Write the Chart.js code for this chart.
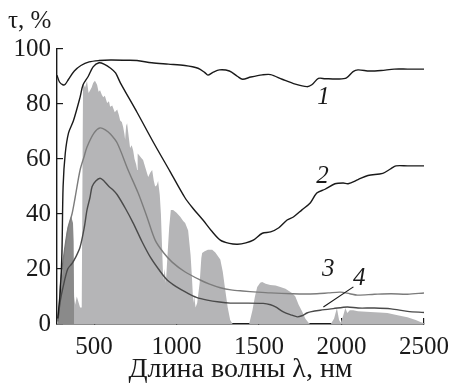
<!DOCTYPE html>
<html>
<head>
<meta charset="utf-8">
<script src="https://cdn.jsdelivr.net/npm/chart.js@4/dist/chart.umd.min.js"></script>
<style>
  body { margin: 0; background: #fff; }
  #wrap { width: 453px; height: 386px; }
</style>
</head>
<body>
<div id="wrap"><canvas id="tauChart" width="453" height="386"></canvas></div>
<script>
// wavelength grid (nm) and transmittance (%) for each sample
const curve1Wl = [275, 290, 310, 325, 345, 380, 420, 470, 530, 600, 700, 760, 850, 950, 1050, 1130, 1170, 1190, 1220, 1260, 1320, 1370, 1400, 1450, 1520, 1570, 1640, 1720, 1790, 1820, 1860, 1900, 1980, 2030, 2070, 2100, 2170, 2240, 2320, 2400, 2500];
const curve1T = [90.5, 88, 87, 87.2, 89, 92, 94, 95.3, 95.8, 96, 95.9, 95.8, 95, 94.5, 94, 93, 91.5, 90.5, 91.5, 92.4, 92, 90, 89, 89.8, 90.6, 90.7, 89, 87.2, 86.3, 87, 89.3, 89.2, 89.1, 89.5, 91.8, 92.4, 92, 92.2, 92.7, 92.7, 92.7];

const curve2Wl = [280, 295, 305, 312, 325, 345, 375, 415, 433, 464, 494, 530, 560, 600, 630, 660, 760, 860, 960, 1050, 1100, 1160, 1210, 1265, 1320, 1370, 1420, 1465, 1520, 1570, 1620, 1670, 1710, 1760, 1810, 1850, 1900, 1960, 2010, 2040, 2100, 2160, 2250, 2300, 2330, 2400, 2500];
const curve2T = [2, 12, 26, 50, 62, 69.5, 74, 82.5, 87, 90, 93.5, 95, 94.5, 93, 91.3, 87.6, 77, 66, 55.5, 46, 42, 37.8, 34, 30.5, 29.3, 29, 29.5, 30.5, 33, 33.5, 35, 37.8, 39, 41.5, 44, 47.6, 49, 51, 51.3, 51, 52.5, 54, 54.8, 56.5, 57.5, 57.5, 57.5];

const curve3Wl = [280, 290, 294, 312, 342, 366, 385, 415, 440, 457, 500, 536, 570, 600, 640, 706, 767, 820, 870, 920, 973, 1050, 1143, 1200, 1265, 1330, 1400, 1490, 1570, 1700, 1768, 1850, 1920, 1993, 2050, 2096, 2200, 2300, 2400, 2500];
const curve3T = [1, 8, 13.5, 23, 35, 40, 46, 56, 61, 64.4, 69.5, 71.3, 70.5, 69, 65.8, 56, 47.6, 39, 30.5, 26, 22.5, 19, 16, 14.5, 13.2, 12.4, 12, 11.6, 11.3, 11, 10.9, 11, 11.3, 11.6, 11, 10.5, 10.8, 11, 10.8, 11.3];

const curve4Wl = [280, 294, 312, 340, 366, 390, 415, 440, 457, 475, 488, 510, 536, 560, 590, 615, 640, 690, 737, 790, 840, 890, 943, 1000, 1064, 1120, 1186, 1260, 1325, 1400, 1525, 1570, 1600, 1647, 1700, 1732, 1760, 1790, 1811, 1871, 1950, 2035, 2100, 2200, 2300, 2400, 2500];
const curve4T = [1, 8, 13.5, 20, 22, 24.5, 28, 35, 41.5, 46, 50, 52, 53, 52, 50, 48.7, 47, 42, 36.7, 30, 24.4, 20, 16, 13.5, 11.3, 9.7, 8.7, 8, 7.6, 7.6, 7.5, 7, 6.2, 4.4, 3.2, 2.6, 3, 4, 4.4, 5, 5.6, 6.2, 5.8, 5.8, 5.5, 4.6, 4.2];

// solar spectrum (relative units, shown as grey fill)
const solarWl = [275, 290, 300, 320, 340, 355, 370, 379, 385, 395, 405, 415, 425, 430, 433, 445, 457, 466, 476, 485, 494, 505, 518, 527, 536, 546, 555, 565, 579, 590, 597, 610, 625, 640, 650, 658, 668, 676, 684, 688, 694, 700, 710, 718, 728, 737, 745, 755, 761, 764, 772, 785, 797, 810, 820, 828, 840, 852, 862, 870, 880, 888, 898, 905, 912, 919, 928, 935, 945, 955, 965, 979, 1000, 1022, 1040, 1052, 1070, 1085, 1094, 1101, 1106, 1115, 1125, 1140, 1150, 1155, 1170, 1190, 1216, 1235, 1265, 1280, 1295, 1310, 1325, 1340, 1440, 1460, 1475, 1489, 1507, 1519, 1540, 1568, 1600, 1629, 1660, 1700, 1720, 1740, 1762, 1780, 1800, 1810, 1935, 1955, 1972, 1985, 1995, 2010, 2023, 2035, 2050, 2071, 2100, 2175, 2230, 2278, 2340, 2399, 2450, 2478, 2500];
const solarI = [0, 3, 8, 15, 25, 30, 28, 10, 7, 10, 8, 6, 6, 60, 87.6, 86, 88.4, 84, 85, 86, 87.6, 88.5, 87, 84.5, 85, 83.5, 82.5, 83, 80.4, 81, 79, 79.5, 77, 78, 76, 74, 73.5, 71.6, 69, 67, 72, 73, 68, 64, 65, 63, 60, 58, 56, 62, 61.5, 60.5, 59.6, 57, 55, 53.5, 55, 56, 52, 50, 50.5, 52, 47, 40, 28, 16, 20, 15, 25, 35, 41.5, 41.5, 40.5, 39, 37.5, 36.7, 34, 25, 16, 7.6, 10.5, 6, 7.6, 15, 24, 25.8, 26.5, 27, 27, 26, 23.5, 19, 12.4, 6, 1.5, 0, 0, 5, 10, 13.5, 15, 15.3, 14.6, 14.2, 14, 13.5, 12.8, 11.3, 10, 7, 4.5, 2, 0.5, 0, 0, 2, 5.8, 1.5, 0.5, 3, 5.8, 4, 5, 5, 4.6, 4.4, 4.2, 4, 3.2, 2.5, 1.5, 0.7, 0.3];

const uvWl = [280, 290, 300, 312, 325, 336, 345, 354, 362, 366, 372, 376, 379];
const uvI = [0, 6, 13, 23, 29, 34, 36, 38, 39.5, 38, 36.7, 30, 0];

const xTicks = [500, 1000, 1500, 2000, 2500];
const curveLabels = ["1", "2", "3", "4"];
const labelWl = [1890, 1884, 1920, 2108];
const labelT = [82.5, 53.5, 20, 16.4];
const leaderWl = [2072, 1890];
const leaderT = [13.5, 6.2];

const serif = "'Liberation Serif', 'DejaVu Serif', serif";

function pts(xs, ys) {
  return xs.map((x, i) => ({ x: x, y: ys[i] }));
}

function lineSet(xs, ys, color) {
  return {
    data: pts(xs, ys),
    borderColor: color,
    borderWidth: 1.4,
    pointRadius: 0,
    fill: false,
    tension: 0.3,
    order: 0
  };
}

function fillSet(xs, ys, color) {
  return {
    data: pts(xs, ys),
    borderWidth: 0,
    borderColor: color,
    backgroundColor: color,
    pointRadius: 0,
    fill: "origin",
    tension: 0,
    order: 1
  };
}

const curveLabelPlugin = {
  id: "curveLabels",
  afterDatasetsDraw(chart) {
    const { ctx, scales: { x, y } } = chart;
    ctx.save();
    ctx.fillStyle = "#1a1a1a";
    ctx.font = "italic 25px " + serif;
    ctx.textAlign = "center";
    ctx.textBaseline = "middle";
    curveLabels.forEach((t, i) => {
      ctx.fillText(t, x.getPixelForValue(labelWl[i]), y.getPixelForValue(labelT[i]));
    });
    ctx.strokeStyle = "#1a1a1a";
    ctx.lineWidth = 1.2;
    ctx.beginPath();
    ctx.moveTo(x.getPixelForValue(leaderWl[0]), y.getPixelForValue(leaderT[0]));
    ctx.lineTo(x.getPixelForValue(leaderWl[1]), y.getPixelForValue(leaderT[1]));
    ctx.stroke();
    ctx.restore();
  }
};

const ctx = document.getElementById("tauChart").getContext("2d");

new Chart(ctx, {
  type: "line",
  data: {
    datasets: [
      lineSet(curve1Wl, curve1T, "#1a1a1a"),
      lineSet(curve2Wl, curve2T, "#1a1a1a"),
      lineSet(curve3Wl, curve3T, "#7c7c7c"),
      lineSet(curve4Wl, curve4T, "#4a4a4a"),
      fillSet(uvWl, uvI, "#8a8a8a"),
      fillSet(solarWl, solarI, "#b5b5b7")
    ]
  },
  options: {
    responsive: false,
    devicePixelRatio: 1,
    animation: false,
    layout: { padding: { left: 8, right: 0, top: 0, bottom: 0 } },
    plugins: {
      legend: { display: false },
      tooltip: { enabled: false },
      title: {
        display: true,
        text: "τ, %",
        align: "start",
        color: "#1a1a1a",
        font: { family: serif, size: 25, weight: "normal" },
        padding: { top: 6, bottom: 13 }
      }
    },
    scales: {
      x: {
        type: "linear",
        min: 275,
        max: 2500,
        afterBuildTicks(scale) {
          scale.ticks = xTicks.map(v => ({ value: v }));
        },
        ticks: {
          color: "#1a1a1a",
          font: { family: serif, size: 25 },
          padding: 14,
          maxRotation: 0,
          callback: v => String(v)
        },
        grid: { drawOnChartArea: false, drawTicks: true, tickLength: -6, color: "#1a1a1a", lineWidth: 1.2 },
        border: { display: true, color: "#1a1a1a", width: 1.4 },
        title: {
          display: true,
          text: "Длина волны λ, нм",
          color: "#1a1a1a",
          font: { family: serif, size: 28 },
          padding: { top: 0, bottom: 0 }
        },
        afterFit(scale) {
          scale.height = 62;
          scale.paddingRight = 29;
        }
      },
      y: {
        min: 0,
        max: 100,
        ticks: {
          stepSize: 20,
          color: "#1a1a1a",
          font: { family: serif, size: 25 },
          padding: 12,
          callback: v => String(v)
        },
        grid: { drawOnChartArea: false, drawTicks: true, tickLength: -6, color: "#1a1a1a", lineWidth: 1.2 },
        border: { display: true, color: "#1a1a1a", width: 1.4 },
        afterFit(scale) { scale.width = 49; }
      }
    }
  },
  plugins: [curveLabelPlugin]
});
</script>
</body>
</html>
